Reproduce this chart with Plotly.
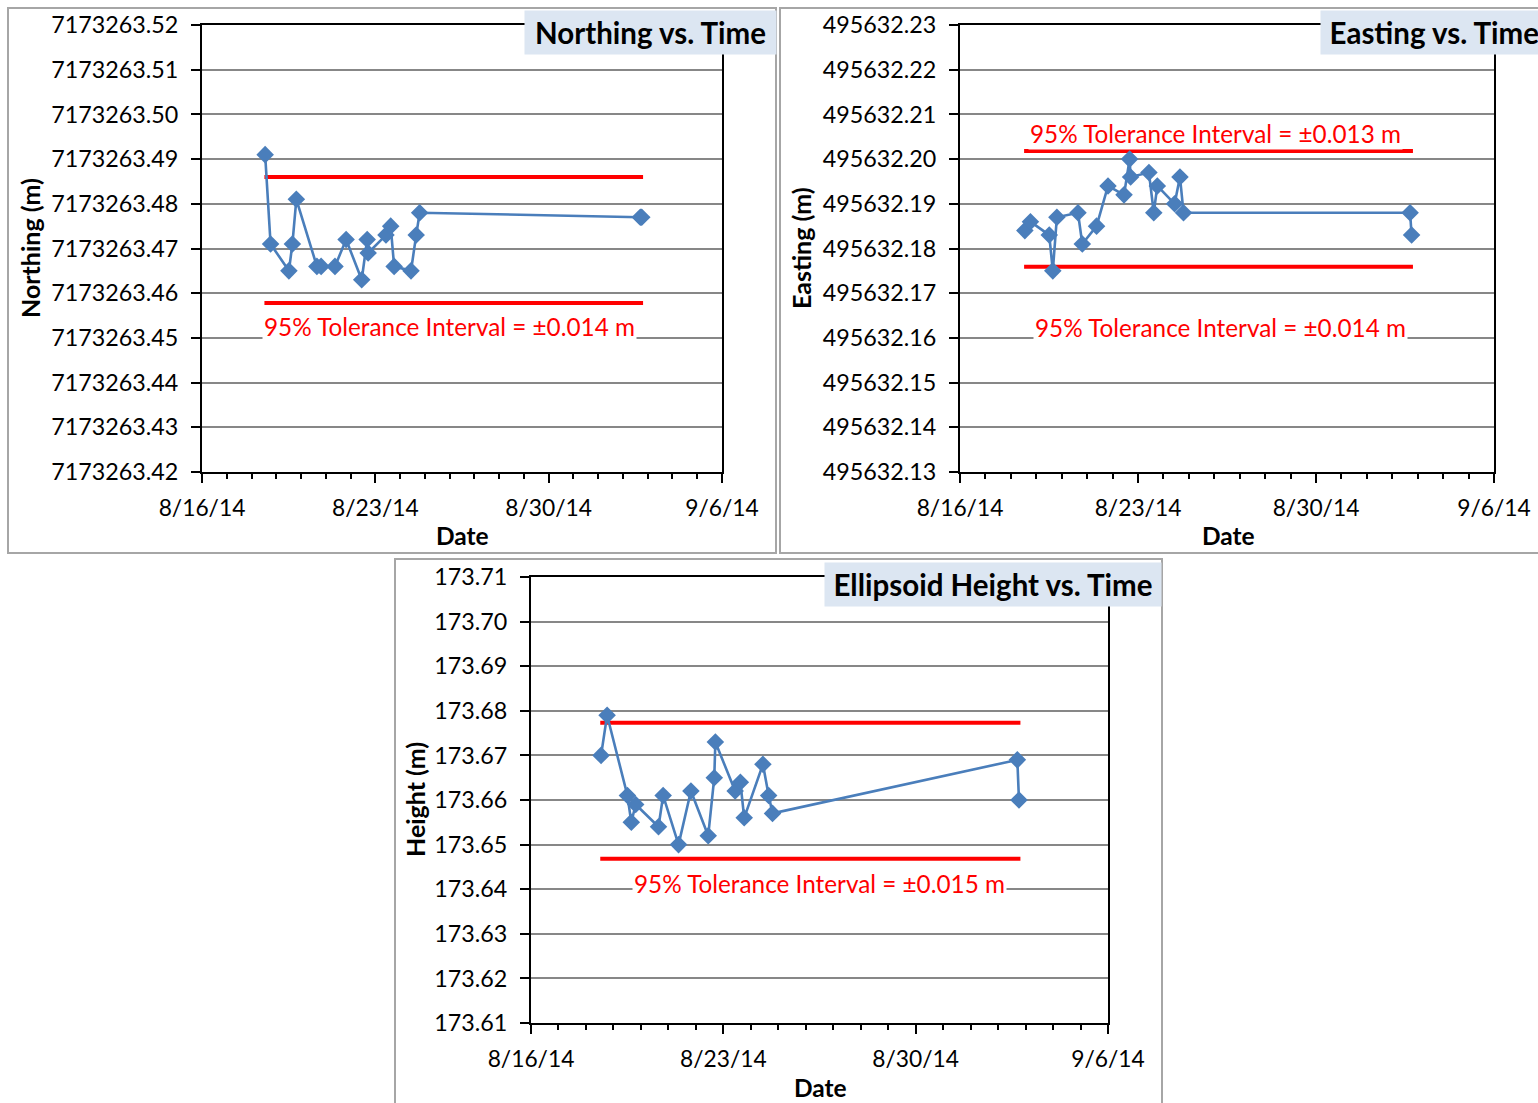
import plotly.graph_objects as go

W, H = 1538, 1103

# ---------------- data ----------------
dates = [
    "2014-08-18 13:12", "2014-08-18 18:29", "2014-08-19 12:14", "2014-08-19 15:36",
    "2014-08-19 19:26", "2014-08-20 15:22", "2014-08-20 19:26", "2014-08-21 08:53",
    "2014-08-21 19:41", "2014-08-22 10:48", "2014-08-22 16:05", "2014-08-22 17:02",
    "2014-08-23 10:19", "2014-08-23 14:53", "2014-08-23 18:14", "2014-08-24 10:34",
    "2014-08-24 15:36", "2014-08-24 18:58", "2014-09-02 16:48", "2014-09-02 18:14",
]
northing = [7173263.491, 7173263.471, 7173263.465, 7173263.471, 7173263.481,
            7173263.466, 7173263.466, 7173263.466, 7173263.472, 7173263.463,
            7173263.472, 7173263.469, 7173263.473, 7173263.475, 7173263.466,
            7173263.465, 7173263.473, 7173263.478, 7173263.477, 7173263.477]
easting = [495632.184, 495632.186, 495632.183, 495632.175, 495632.187,
           495632.188, 495632.181, 495632.185, 495632.194, 495632.192,
           495632.200, 495632.196, 495632.197, 495632.188, 495632.194,
           495632.190, 495632.196, 495632.188, 495632.188, 495632.183]
height = [173.670, 173.679, 173.661, 173.655, 173.659,
          173.654, 173.661, 173.650, 173.662, 173.652,
          173.665, 173.673, 173.662, 173.664, 173.656,
          173.668, 173.661, 173.657, 173.669, 173.660]

tol_dates = ["2014-08-18 12:30", "2014-09-02 19:30"]
northing_tol_upper = 7173263.4860
northing_tol_lower = 7173263.4578
easting_tol_upper = 495632.2018
easting_tol_lower = 495632.1759
height_tol_upper = 173.6773
height_tol_lower = 173.6468

northing_ticks = ["7173263.42", "7173263.43", "7173263.44", "7173263.45", "7173263.46",
                  "7173263.47", "7173263.48", "7173263.49", "7173263.50", "7173263.51",
                  "7173263.52"]
easting_ticks = ["495632.13", "495632.14", "495632.15", "495632.16", "495632.17",
                 "495632.18", "495632.19", "495632.20", "495632.21", "495632.22",
                 "495632.23"]
height_ticks = ["173.61", "173.62", "173.63", "173.64", "173.65", "173.66",
                "173.67", "173.68", "173.69", "173.70", "173.71"]
date_ticks = ["2014-08-16", "2014-08-23", "2014-08-30", "2014-09-06"]
date_tick_labels = ["8/16/14", "8/23/14", "8/30/14", "9/6/14"]

FONT = "Lato"
BLUE = "#4a7ebb"
RED = "#ff0000"
GRID = "#878787"


def px(x):
    return x / W


def py(y):
    return 1 - y / H


fig = go.Figure()

panels = [
    (northing, northing_ticks, northing_tol_upper, northing_tol_lower, (202, 722), (25, 472), ""),
    (easting, easting_ticks, easting_tol_upper, easting_tol_lower, (960, 1494), (25, 472), "2"),
    (height, height_ticks, height_tol_upper, height_tol_lower, (531, 1108), (577, 1023), "3"),
]

for vals, ticks, tu, tl, (x0, x1), (y0, y1), s in panels:
    xa = "x" + s
    ya = "y" + s
    for tv in (tu, tl):
        fig.add_trace(go.Scatter(x=tol_dates, y=[tv, tv], mode="lines",
                                 line=dict(color=RED, width=4), xaxis=xa, yaxis=ya,
                                 hoverinfo="skip", showlegend=False))
    fig.add_trace(go.Scatter(x=dates, y=vals, mode="lines+markers",
                             line=dict(color=BLUE, width=2.6),
                             marker=dict(symbol="diamond", size=13.5, color=BLUE),
                             xaxis=xa, yaxis=ya, showlegend=False))
    tickvals = [float(t) for t in ticks]
    fig.layout["xaxis" + s] = dict(
        domain=[px(x0), px(x1)], anchor=ya, type="date", automargin=False,
        range=[date_ticks[0], date_ticks[-1]],
        tickvals=date_ticks, ticktext=date_tick_labels,
        ticks="outside", ticklen=9, tickwidth=2, tickcolor="black",
        ticklabelstandoff=6,
        minor=dict(ticks="outside", ticklen=5, tickwidth=2, tickcolor="black",
                   dtick=86400000, tick0="2014-08-16", showgrid=False),
        showline=True, linecolor="black", linewidth=2, mirror=True,
        showgrid=False, zeroline=False,
        tickfont=dict(family=FONT, size=22.8, color="black"),
        fixedrange=True,
    )
    fig.layout["yaxis" + s] = dict(
        domain=[py(y1), py(y0)], anchor=xa, automargin=False,
        range=[tickvals[0], tickvals[-1]],
        tickvals=tickvals, ticktext=ticks,
        ticks="outside", ticklen=9, tickwidth=2, tickcolor="black",
        ticklabelstandoff=8,
        showline=True, linecolor="black", linewidth=2, mirror=True,
        showgrid=True, gridcolor=GRID, gridwidth=2, zeroline=False,
        tickfont=dict(family=FONT, size=23.3, color="black"),
        fixedrange=True,
    )

# panel borders
for (bx0, by0, bx1, by1) in [(8, 8, 776, 553), (780, 8, 1545, 553), (395, 559, 1162, 1110)]:
    fig.add_shape(type="rect", xref="paper", yref="paper",
                  x0=px(bx0), x1=px(bx1), y0=py(by1), y1=py(by0),
                  line=dict(color="#a6a6a6", width=2), fillcolor="rgba(0,0,0,0)", layer="below")

annots = []
# titles
for text, bx0, by0, bw, bh, al in [("Northing vs. Time", 524, 10, 251, 43, "center"),
                                   ("Easting vs. Time", 1320, 10, 218, 43, "right"),
                                   ("Ellipsoid Height vs. Time", 824, 562, 336, 43, "center")]:
    annots.append(dict(text="<b>%s</b>" % text, xref="paper", yref="paper",
                       x=px(bx0), y=py(by0), xanchor="left", yanchor="top",
                       width=bw, height=bh, borderpad=0, bgcolor="#dce6f2",
                       showarrow=False, align=al, valign="middle",
                       font=dict(family=FONT, size=29.5, color="black")))
# axis titles
for text, ax, ay, ang, sz in [("Northing (m)", 30, 248, -90, 25), ("Easting (m)", 801, 248, -90, 25),
                              ("Height (m)", 415, 800, -90, 25),
                              ("Date", 462, 535, 0, 24.5), ("Date", 1228, 535, 0, 24.5),
                              ("Date", 820, 1087, 0, 24.5)]:
    annots.append(dict(text="<b>%s</b>" % text, xref="paper", yref="paper",
                       x=px(ax), y=py(ay), xanchor="center", yanchor="middle",
                       textangle=ang, showarrow=False,
                       font=dict(family=FONT, size=sz, color="black")))
# tolerance labels
for text, xr, yr, xd, yv in [
        ("95% Tolerance Interval = ±0.014 m", "x", "y", "2014-08-26 00:00", 7173263.4525),
        ("95% Tolerance Interval = ±0.013 m", "x2", "y2", "2014-08-26 01:00", 495632.2058),
        ("95% Tolerance Interval = ±0.014 m", "x2", "y2", "2014-08-26 06:00", 495632.1624),
        ("95% Tolerance Interval = ±0.015 m", "x3", "y3", "2014-08-26 12:00", 173.6412)]:
    annots.append(dict(text=text, xref=xr, yref=yr, x=xd, y=yv,
                       xanchor="center", yanchor="middle", showarrow=False,
                       bgcolor="white", borderpad=1,
                       font=dict(family=FONT, size=24.3, color=RED)))

fig.update_layout(template="none", width=W, height=H, margin=dict(l=0, r=0, t=0, b=0, pad=0),
                  paper_bgcolor="white", plot_bgcolor="white",
                  annotations=annots, showlegend=False)

fig.write_html("out.html", config={"displayModeBar": False},
               post_script="document.body.style.margin='0px';document.body.style.overflow='hidden';")
